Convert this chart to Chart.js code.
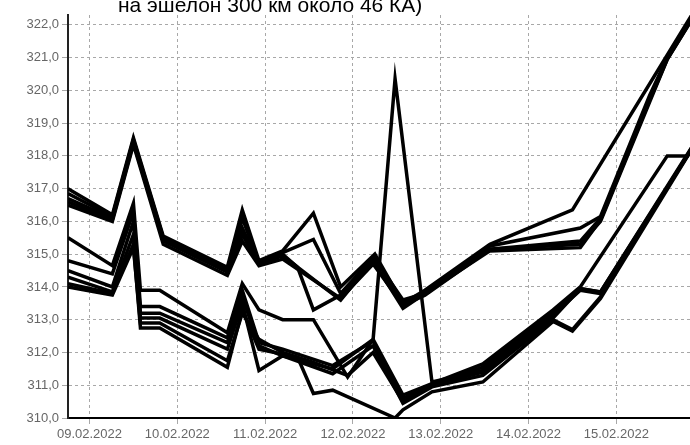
<!DOCTYPE html>
<html><head><meta charset="utf-8">
<script src="https://cdn.jsdelivr.net/npm/chart.js@4.4.1/dist/chart.umd.min.js"></script>
<style>
html,body{margin:0;padding:0;background:#fff;overflow:hidden}
#wrap{position:relative;width:690px;height:445px;overflow:hidden}
#title{position:absolute;left:118px;top:-6px;font:21px "Liberation Sans",Arial,sans-serif;line-height:21px;white-space:nowrap;color:#000}
canvas{position:absolute;left:0;top:0}
</style></head><body>
<div id="wrap"><canvas id="c" width="690" height="445"></canvas><div id="title"></div></div>
<script>
const titleText = "на эшелон 300 км около 46 КА)";
// time of each vertex, in days after 09.02.2022 00:00
const days = [-0.245,0.26,0.5,0.58,0.8,0.84,1.57,1.74,1.93,2.2,2.37,2.55,2.77,2.86,2.94,3.23,3.25,3.48,3.57,3.82,3.9,4.48,4.56,5.28,5.5,5.59,5.82,6.38,6.58,6.81,6.95];
const tickDays = [0,1,2,3,4,5,6];
const tickLabels = ["09.02.2022","10.02.2022","11.02.2022","12.02.2022","13.02.2022","14.02.2022","15.02.2022"];
const yTicks = [310,311,312,313,314,315,316,317,318,319,320,321,322];
const yTickLabels = ["310,0","311,0","312,0","313,0","314,0","315,0","316,0","317,0","318,0","319,0","320,0","321,0","322,0"];
const _ = null;
//            0      1      2      3      4      5      6      7      8      9      10     11     12     13     14     15     16     17     18     19     20     21     22     23     24     25     26     27     28     29     30
const U1 = [317.0, 316.2, 318.55,_,     _,     315.55,314.6, 316.35,314.8, 315.1, _,     316.25,_,     314.0, _,     _,     315.0, _,     313.5, 313.9, _,     _,     315.3, _,     316.35,_,     _,     _,     _,     _,     322.7];
const U2 = [316.85,316.15,318.5, _,     _,     315.5, 314.55,316.1, 314.75,315.05,_,     315.45,_,     313.8, _,     _,     314.95,_,     313.4, 313.85,_,     _,     315.25,_,     _,     315.8, 316.15,319.85,321.0, _,     322.6];
const U3 = [316.7, 316.1, 318.45,_,     _,     315.45,314.5, 315.8, 314.7, 315.0, 314.6, 313.3, _,     313.75,_,     _,     314.85,_,     313.6, 313.8, _,     _,     315.15,_,     _,     315.4, 316.1, 319.75,321.0, _,     322.6];
const U4 = [316.6, 316.05,318.4, _,     _,     315.4, 314.45,315.6, 314.7, 314.95,_,     _,     _,     313.6, _,     314.8, _,     _,     313.35,313.8, _,     _,     315.1, _,     _,     315.2, 316.05,319.7, 320.95,_,     322.55];
const U5 = [316.5, 316.0, 318.35,_,     _,     315.3, 314.35,315.4, 314.65,314.85,_,     _,     _,     313.65,_,     314.7, _,     _,     313.45,313.75,_,     _,     315.15,_,     _,     315.3, 316.0, 319.65,320.95,_,     322.55];
const L1 = [315.5, 314.65,316.55,313.9, 313.9, _,     312.6, 314.1, 313.3, 313.0, _,     313.0, _,     _,     311.25,312.4, _,     _,     310.7, _,     311.05,311.65,_,     313.3, _,     314.0, _,     _,     318.0, 318.0, 318.6];
const L2 = [314.8, 314.4, 316.3, 313.4, 313.4, _,     312.45,313.9, 312.3, 312.1, _,     _,     311.6, _,     _,     312.35,_,     _,     310.6, _,     311.0, 311.55,_,     313.2, _,     313.95,313.85,_,     _,     _,     318.65];
const L3 = [314.5, 314.0, 316.0, 313.2, 313.2, _,     312.3, 313.7, 312.2, 311.9, _,     _,     311.5, _,     _,     312.4, _,     320.35,_,     _,     311.1, 311.45,_,     313.15,_,     313.9, 313.8, _,     _,     _,     318.6];
const L4 = [314.3, 313.85,315.6, 313.05,313.05,_,     312.1, 313.5, 311.45,311.9, _,     _,     311.35,_,     _,     312.2, _,     _,     310.45,_,     310.95,311.3, _,     313.0, 312.7, _,     313.7, _,     _,     _,     318.65];
const L5 = [314.1, 313.8, 315.3, 312.75,312.75,_,     311.55,313.3, 312.1, _,     311.85,310.75,310.85,_,     _,     _,     _,     310.0, 310.25,_,     310.8, 311.1, _,     312.95,312.65,_,     313.65,_,     _,     _,     318.6];
const L6 = [314.0, 313.75,315.2, 312.9, 312.9, _,     311.75,313.2, 312.4, 312.0, _,     311.7, _,     _,     311.3, 312.0, _,     _,     310.5, _,     311.0, 311.4, _,     313.05,_,     313.95,313.85,_,     _,     _,     318.6];
const series = [U1,U2,U3,U4,U5,L1,L2,L3,L4,L5,L6];

document.getElementById('title').textContent = titleText;

const datasets = series.map(s => ({
  data: s.map((v,i) => v === null ? null : {x: days[i], y: v}).filter(p => p),
  borderColor: '#000',
  borderWidth: 3.5,
  pointRadius: 0,
  tension: 0,
  fill: false
}));

const tickFont = {family: '"Liberation Sans", Arial, sans-serif', size: 13};

new Chart(document.getElementById('c'), {
  type: 'line',
  data: {datasets},
  options: {
    responsive: false,
    animation: false,
    layout: {padding: {top: 15, left: 0, right: 0, bottom: 0}},
    plugins: {legend: {display: false}, tooltip: {enabled: false}, title: {display: false}},
    scales: {
      x: {
        type: 'linear',
        min: -0.245,
        max: 6.839,
        afterBuildTicks: s => { s.ticks = tickDays.map(v => ({value: v})); },
        afterFit: s => { s.height = 27; },
        ticks: {
          autoSkip: false, maxRotation: 0, padding: 3, color: '#666', font: tickFont,
          callback: v => tickLabels[tickDays.indexOf(v)]
        },
        grid: {color: '#a8a8a8', tickLength: 6, lineWidth: 1},
        border: {color: '#000', width: 2, dash: [3, 3]}
      },
      y: {
        type: 'linear',
        min: 310,
        max: 322.3,
        afterBuildTicks: s => { s.ticks = yTicks.map(v => ({value: v})); },
        afterFit: s => { s.width = 68; },
        ticks: {
          padding: 3, color: '#666', font: tickFont,
          callback: v => yTickLabels[yTicks.indexOf(v)]
        },
        grid: {color: '#a8a8a8', tickLength: 6, lineWidth: 1},
        border: {color: '#222', width: 2, dash: [3, 3]}
      }
    }
  }
});
</script>
</body></html>
